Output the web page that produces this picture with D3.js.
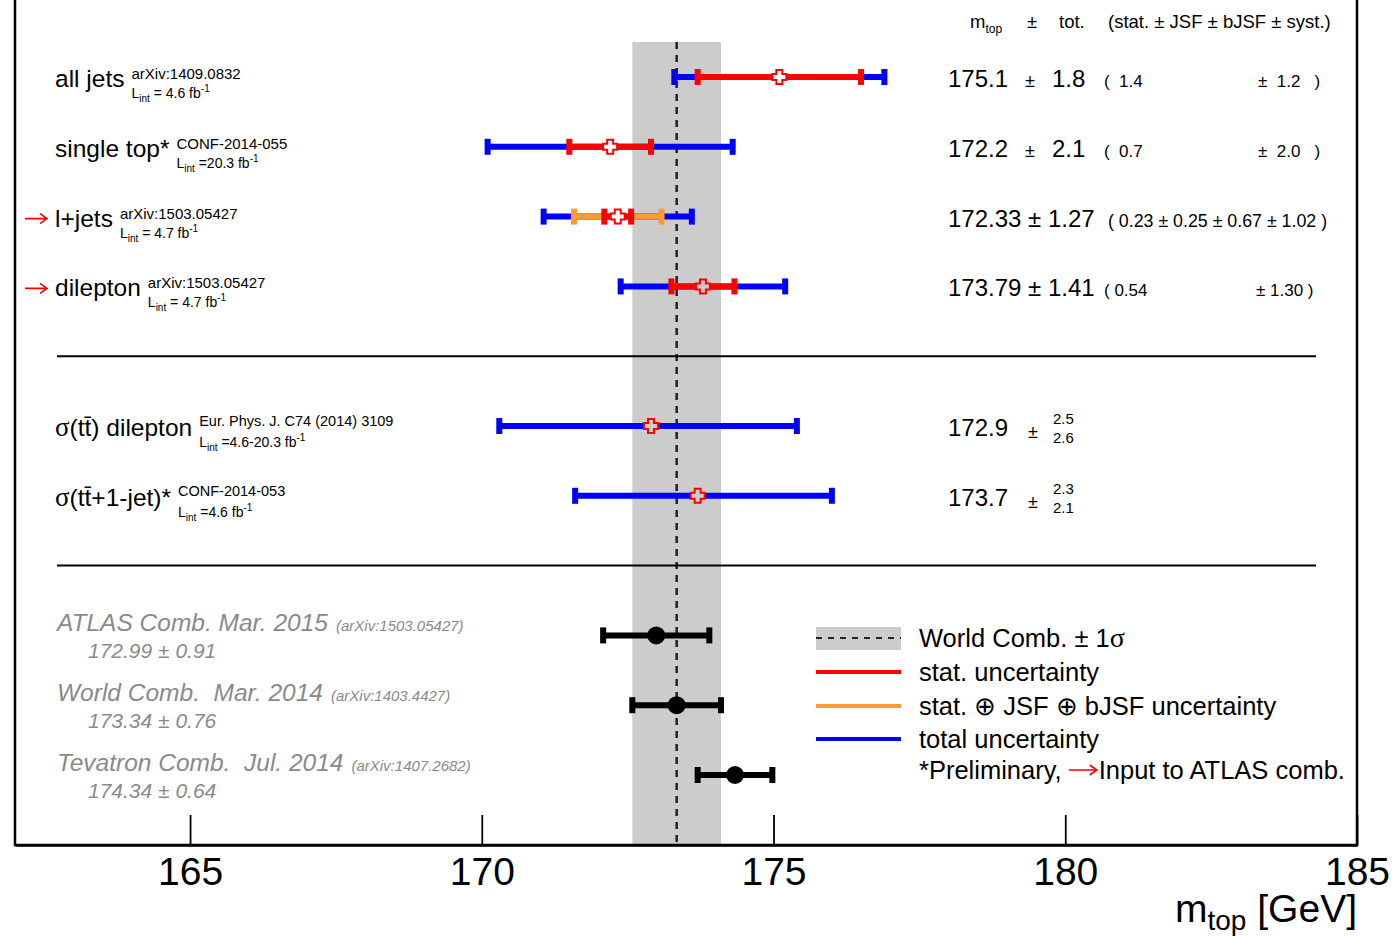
<!DOCTYPE html>
<html>
<head>
<meta charset="utf-8">
<script src="https://cdn.jsdelivr.net/npm/d3@7"></script>
<style>
  body { margin: 0; background: #fff; }
  svg text { font-family: "Liberation Sans", Helvetica, Arial, sans-serif; white-space: pre; }
</style>
</head>
<body>
<div id="chart"></div>
<script>
// ATLAS top-quark mass summary

// measurements (rows 0-3)
const measNames = ["all jets", "single top*", "l+jets", "dilepton"];
const measRefs = ["arXiv:1409.0832", "CONF-2014-055", "arXiv:1503.05427", "arXiv:1503.05427"];
const measLumi = [" = 4.6 fb", " =20.3 fb", " = 4.7 fb", " = 4.7 fb"];
const measArrow = [false, false, true, true];
const measMass = [175.1, 172.2, 172.33, 173.79];
const measTot = [1.8, 2.1, 1.27, 1.41];
const measStat = [1.4, 0.7, 0.23, 0.54];
const measJsf = [null, null, 0.25, null];
const measBjsf = [null, null, 0.67, null];
const measSyst = [1.2, 2.0, 1.02, 1.30];
const measMassText = ["175.1", "172.2", "172.33", "173.79"];
const measTotText = ["1.8", "2.1", "1.27", "1.41"];
const measStatText = ["1.4", "0.7", "0.23", "0.54"];
const measSystText = ["1.2", "2.0", "1.02", "1.30"];

// cross-section based (rows 5-6)
const xsNames = ["dilepton", "+1-jet)*"];
const xsRefs = ["Eur. Phys. J. C74 (2014) 3109", "CONF-2014-053"];
const xsLumi = [" =4.6-20.3 fb", " =4.6 fb"];
const xsMass = [172.9, 173.7];
const xsUp = [2.5, 2.3];
const xsDown = [2.6, 2.1];
const xsMassText = ["172.9", "173.7"];
const xsUpText = ["2.5", "2.3"];
const xsDownText = ["2.6", "2.1"];

// combinations (rows 8-10)
const combNames = ["ATLAS Comb. Mar. 2015", "World Comb.  Mar. 2014", "Tevatron Comb.  Jul. 2014"];
const combRefs = ["(arXiv:1503.05427)", "(arXiv:1403.4427)", "(arXiv:1407.2682)"];
const combMass = [172.99, 173.34, 174.34];
const combUnc = [0.91, 0.76, 0.64];

const worldMass = 173.34;
const worldUnc = 0.76;

const tickValues = [165, 170, 175, 180, 185];
const legendLabels = ["World Comb. \u00b1 1", "stat. uncertainty", "stat. \u2295 JSF \u2295 bJSF uncertainty", "total uncertainty"];
const legendColors = [null, "#ff0000", "#ff9933", "#0000ff"];

const W = 1395, H = 937;
const frameL = 15, frameR = 1357, frameT = 0, frameB = 845;
const serif = "Liberation Serif, Times New Roman, serif";

const svg = d3.select("#chart").append("svg")
  .attr("width", W).attr("height", H);

const x = d3.scaleLinear().domain([162, 185]).range([frameL, frameR]);
const y = d3.scaleLinear().domain([0, 10]).range([77, 775]);

// world comb band + dashed line
svg.append("rect")
  .attr("x", x(worldMass - worldUnc)).attr("y", 42)
  .attr("width", x(worldMass + worldUnc) - x(worldMass - worldUnc))
  .attr("height", frameB - 42)
  .attr("fill", "#cccccc");
svg.append("line")
  .attr("x1", x(worldMass)).attr("x2", x(worldMass))
  .attr("y1", 42).attr("y2", frameB)
  .attr("stroke", "#222").attr("stroke-width", 2.5)
  .attr("stroke-dasharray", "7,6");

// frame
svg.append("path")
  .attr("d", `M${frameL},${frameT}V${frameB}H${frameR}V${frameT}`)
  .attr("fill", "none").attr("stroke", "#000").attr("stroke-width", 2.5);

// axis
const axis = d3.axisBottom(x).tickValues(tickValues).tickSize(-30).tickSizeOuter(0).tickPadding(12);
const ax = svg.append("g").attr("transform", `translate(0,${frameB})`).call(axis);
ax.select(".domain").attr("stroke-width", 2.5);
ax.selectAll(".tick line").attr("stroke-width", 1.8);
ax.selectAll(".tick text")
  .attr("font-size", 39).attr("fill", "#000")
  .attr("font-family", "Liberation Sans, Helvetica, Arial, sans-serif");

const xt = svg.append("text").attr("x", frameR).attr("y", 922)
  .attr("text-anchor", "end").attr("font-size", 39);
xt.append("tspan").text("m");
xt.append("tspan").attr("font-size", 28).attr("dy", 8).text("top");
xt.append("tspan").attr("dy", -8).text(" [GeV]");

// separators
[4, 7].forEach(r => {
  svg.append("line").attr("x1", 57).attr("x2", 1316)
    .attr("y1", y(r)).attr("y2", y(r))
    .attr("stroke", "#000").attr("stroke-width", 2);
});

// header
const hdr = svg.append("g").attr("font-size", 18.5);
const hm = hdr.append("text").attr("x", 970).attr("y", 28);
hm.append("tspan").text("m");
hm.append("tspan").attr("font-size", 12).attr("dy", 5).text("top");
hdr.append("text").attr("x", 1027).attr("y", 28).text("\u00b1");
hdr.append("text").attr("x", 1059).attr("y", 28).text("tot.");
hdr.append("text").attr("x", 1108).attr("y", 28).text("(stat. \u00b1 JSF \u00b1 bJSF \u00b1 syst.)");

// helpers
function errBar(g, yy, lo, hi, color, w, capH) {
  g.append("line").attr("x1", x(lo)).attr("x2", x(hi))
    .attr("y1", yy).attr("y2", yy)
    .attr("stroke", color).attr("stroke-width", w);
  [lo, hi].forEach(v => {
    g.append("rect").attr("x", x(v) - 3).attr("y", yy - capH / 2)
      .attr("width", 6).attr("height", capH).attr("fill", color);
  });
}
const crossPath = "M-3,-7H3V-3H7V3H3V7H-3V3H-7V-3H-3Z";
function cross(g, m, yy) {
  const inBand = Math.abs(m - worldMass) <= worldUnc;
  g.append("path").attr("d", crossPath)
    .attr("transform", `translate(${x(m)},${yy})`)
    .attr("fill", inBand ? "#cccccc" : "#ffffff")
    .attr("stroke", "#ff0000").attr("stroke-width", 2);
}
function lumiText(g, xx, yy, val) {
  const t = g.append("text").attr("x", xx).attr("y", yy).attr("font-size", 14);
  t.append("tspan").text("L");
  t.append("tspan").attr("font-size", 10).attr("dy", 4).text("int");
  t.append("tspan").attr("dy", -4).text(val);
  t.append("tspan").attr("font-size", 10).attr("dy", -6).text("-1");
}
function redArrow(g, x0, yy, len) {
  g.append("path")
    .attr("d", `M${x0},${yy}H${x0 + len}M${x0 + len - 7},${yy - 5}L${x0 + len},${yy}L${x0 + len - 7},${yy + 5}`)
    .attr("fill", "none").attr("stroke", "#ff0000").attr("stroke-width", 1.6);
}

// measurement rows
const marks = svg.append("g");
measNames.forEach((name, i) => {
  const yy = y(i);
  const g = svg.append("g");
  const lbl = g.append("text").attr("x", 55).attr("y", yy + 10).attr("font-size", 24.5).text(name);
  const lw = lbl.node().getComputedTextLength();
  g.append("text").attr("x", 55 + lw + 7).attr("y", yy + 2).attr("font-size", 15).text(measRefs[i]);
  lumiText(g, 55 + lw + 7, yy + 21, measLumi[i]);
  if (measArrow[i]) redArrow(g, 25, yy + 2, 22);
  const m = measMass[i];
  errBar(marks, yy, m - measTot[i], m + measTot[i], "#0000ff", 6, 16);
  if (measJsf[i] !== null) {
    const s = Math.sqrt(measStat[i] ** 2 + measJsf[i] ** 2 + measBjsf[i] ** 2);
    errBar(marks, yy, m - s, m + s, "#ff9933", 6, 16);
  }
  errBar(marks, yy, m - measStat[i], m + measStat[i], "#ff0000", 6, 16);
  cross(marks, m, yy);

  // values column
  const v = svg.append("g");
  if (i < 2) {
    v.append("text").attr("x", 948).attr("y", yy + 10).attr("font-size", 24).text(measMassText[i]);
    v.append("text").attr("x", 1025).attr("y", yy + 10).attr("font-size", 18).text("\u00b1");
    v.append("text").attr("x", 1052).attr("y", yy + 10).attr("font-size", 24).text(measTotText[i]);
    v.append("text").attr("x", 1104).attr("y", yy + 10).attr("font-size", 17).text("(  " + measStatText[i]);
    v.append("text").attr("x", 1258).attr("y", yy + 10).attr("font-size", 17).text("\u00b1  " + measSystText[i] + "   )");
  } else {
    v.append("text").attr("x", 948).attr("y", yy + 10).attr("font-size", 24)
      .text(measMassText[i] + " \u00b1 " + measTotText[i]);
    if (measJsf[i] !== null) {
      v.append("text").attr("x", 1108).attr("y", yy + 10).attr("font-size", 17.8)
        .text("( " + measStatText[i] + " \u00b1 " + measJsf[i].toFixed(2) + " \u00b1 " + measBjsf[i].toFixed(2) + " \u00b1 " + measSystText[i] + " )");
    } else {
      v.append("text").attr("x", 1104).attr("y", yy + 10).attr("font-size", 17).text("( " + measStatText[i]);
      v.append("text").attr("x", 1256).attr("y", yy + 10).attr("font-size", 17).text("\u00b1 " + measSystText[i] + " )");
    }
  }
});

// cross-section rows
xsNames.forEach((name, i) => {
  const yy = y(5 + i);
  const g = svg.append("g");
  const lbl = g.append("text").attr("x", 55).attr("y", yy + 10).attr("font-size", 24.5);
  lbl.append("tspan").attr("font-family", serif).attr("font-size", 27).text("\u03c3");
  lbl.append("tspan").text("(tt\u0304");
  lbl.append("tspan").text(i === 0 ? ") " + name : name);
  const lw = lbl.node().getComputedTextLength();
  g.append("text").attr("x", 55 + lw + 7).attr("y", yy + 0).attr("font-size", 14.5).text(xsRefs[i]);
  lumiText(g, 55 + lw + 7, yy + 21, xsLumi[i]);

  const m = xsMass[i];
  errBar(marks, yy, m - xsDown[i], m + xsUp[i], "#0000ff", 6, 16);
  cross(marks, m, yy);

  const v = svg.append("g");
  v.append("text").attr("x", 948).attr("y", yy + 10).attr("font-size", 24).text(xsMassText[i]);
  v.append("text").attr("x", 1028).attr("y", yy + 12).attr("font-size", 18).text("\u00b1");
  v.append("text").attr("x", 1053).attr("y", yy - 2).attr("font-size", 15).text(xsUpText[i]);
  v.append("text").attr("x", 1053).attr("y", yy + 17).attr("font-size", 15).text(xsDownText[i]);
});

// combination rows
combNames.forEach((name, i) => {
  const yy = y(8 + i);
  const g = svg.append("g").attr("fill", "#8a8a8a").attr("font-style", "italic");
  const lbl = g.append("text").attr("x", 57).attr("y", yy - 4).attr("font-size", 24.5).text(name);
  const lw = lbl.node().getComputedTextLength();
  g.append("text").attr("x", 57 + lw + 8).attr("y", yy - 4).attr("font-size", 15).text(combRefs[i]);
  g.append("text").attr("x", 88).attr("y", yy + 23).attr("font-size", 21)
    .text(combMass[i].toFixed(2) + " \u00b1 " + combUnc[i].toFixed(2));

  const m = combMass[i];
  errBar(marks, yy, m - combUnc[i], m + combUnc[i], "#000000", 6, 16);
  marks.append("circle").attr("cx", x(m)).attr("cy", yy).attr("r", 9).attr("fill", "#000");
});

// legend
const lg = svg.append("g").attr("font-size", 25.5);
const legY = [638, 672, 706, 739];
legendLabels.forEach((lab, i) => {
  const yy = legY[i];
  if (legendColors[i] === null) {
    lg.append("rect").attr("x", 816).attr("y", yy - 11).attr("width", 85).attr("height", 23).attr("fill", "#cccccc");
    lg.append("line").attr("x1", 816).attr("x2", 901).attr("y1", yy).attr("y2", yy)
      .attr("stroke", "#222").attr("stroke-width", 2).attr("stroke-dasharray", "6,6");
  } else {
    lg.append("line").attr("x1", 816).attr("x2", 901).attr("y1", yy).attr("y2", yy)
      .attr("stroke", legendColors[i]).attr("stroke-width", 4);
  }
  const t = lg.append("text").attr("x", 919).attr("y", yy + 9).text(lab);
  if (i === 0) t.append("tspan").attr("font-family", serif).attr("font-size", 28).text("\u03c3");
});
const note1 = lg.append("text").attr("x", 919).attr("y", 779).text("*Preliminary, ");
const n1w = note1.node().getComputedTextLength();
redArrow(lg, 919 + n1w, 770, 28);
lg.append("text").attr("x", 919 + n1w + 30).attr("y", 779).text("Input to ATLAS comb.");
</script>
</body>
</html>
